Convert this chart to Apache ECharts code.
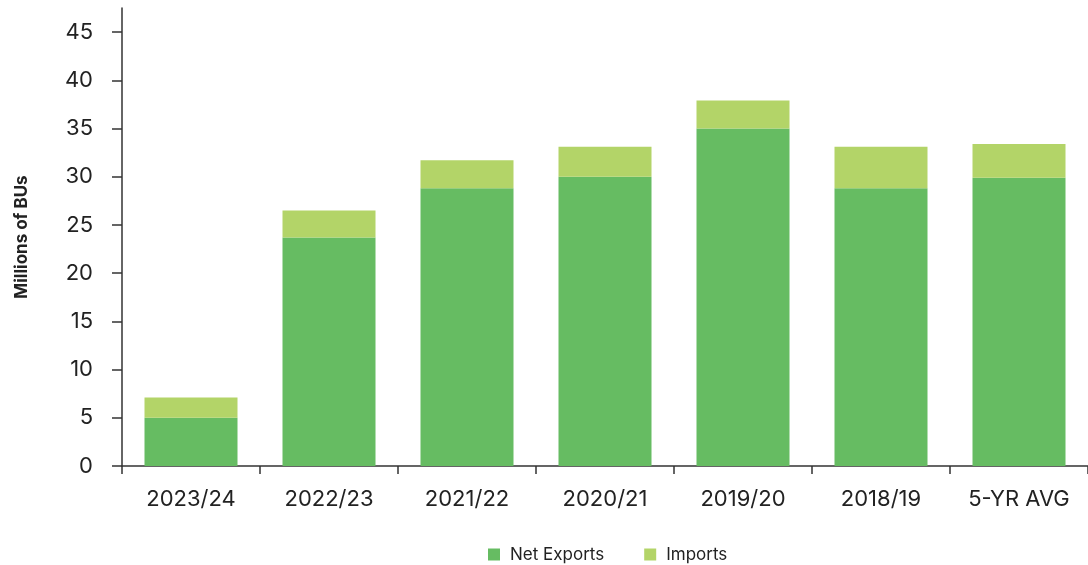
<!DOCTYPE html>
<html>
<head>
<meta charset="utf-8">
<script src="https://cdn.jsdelivr.net/npm/echarts@6/dist/echarts.min.js"></script>
<style>
html,body{margin:0;padding:0;background:#fff;}
#chart{width:1088px;height:565px;}
</style>
</head>
<body>
<div id="chart"></div>
<script>
const categories = ['2023/24', '2022/23', '2021/22', '2020/21', '2019/20', '2018/19', '5-YR AVG'];
const netExports = [5.0, 23.7, 28.8, 30.0, 35.0, 28.8, 29.9];
const imports = [2.1, 2.8, 2.9, 3.1, 2.9, 4.3, 3.5];
const yTicks = [0, 5, 10, 15, 20, 25, 30, 35, 40, 45];

const chart = echarts.init(document.getElementById('chart'));
const fontFam = 'Inter, "Open Sans", sans-serif';
chart.setOption({
  animation: false,
  grid: { left: 122, right: 0, top: 8, bottom: 99, containLabel: false },
  legend: {
    left: 488, top: 546, padding: 0,
    itemWidth: 12, itemHeight: 12, itemGap: 40,
    icon: 'rect',
    textStyle: { fontFamily: fontFam, fontSize: 17, color: '#222', padding: [0, 0, 0, 5] },
    data: ['Net Exports', 'Imports']
  },
  xAxis: {
    type: 'category',
    data: categories,
    axisLine: { lineStyle: { color: '#333', width: 1.5 } },
    axisTick: { show: true, length: 8, lineStyle: { color: '#333', width: 1.5 } },
    axisLabel: { fontFamily: fontFam, fontSize: 22, color: '#222', margin: 22 }
  },
  yAxis: {
    type: 'value',
    min: 0, max: 47.5,
    name: 'Millions of BUs',
    nameLocation: 'middle',
    nameGap: 92,
    nameRotate: 90,
    nameTextStyle: { fontFamily: fontFam, fontSize: 17, fontWeight: 'bold', color: '#222' },
    splitLine: { show: false },
    axisLine: { show: true, lineStyle: { color: '#333', width: 1.5 } },
    axisTick: { show: true, length: 10, customValues: yTicks, lineStyle: { color: '#333', width: 1.5 } },
    axisLabel: { fontFamily: fontFam, fontSize: 22, color: '#222', margin: 29, customValues: yTicks }
  },
  series: [
    {
      name: 'Net Exports', type: 'bar', stack: 'total',
      barWidth: 93,
      itemStyle: { color: '#66bc62' },
      data: netExports
    },
    {
      name: 'Imports', type: 'bar', stack: 'total',
      barWidth: 93,
      itemStyle: { color: '#b3d468' },
      data: imports
    }
  ]
});
</script>
</body>
</html>
